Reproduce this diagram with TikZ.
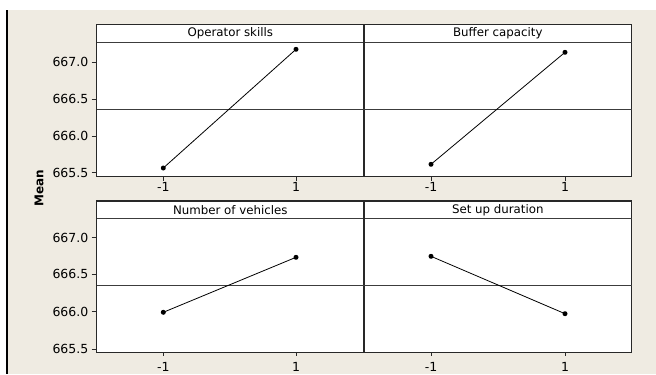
\documentclass[tikz,border=0pt]{standalone}
\usepackage{fontspec}
\setmainfont{DejaVu Sans}
\definecolor{bg}{RGB}{239,235,226}
\definecolor{frame}{RGB}{40,40,40}
\definecolor{meanc}{RGB}{60,60,60}
\begin{document}
\begin{tikzpicture}[x=1bp,y=-1bp,
  panelframe/.style={draw=frame,line width=1.1bp,fill=white},
  sepline/.style={draw=meanc,line width=0.9bp},
  meanline/.style={draw=meanc,line width=0.8bp},
  dataline/.style={draw=black,line width=0.8bp},
  dot/.style={circle,fill=black,inner sep=0pt,minimum size=5bp},
  ticklab/.style={font=\fontsize{12.5bp}{14bp}\selectfont,inner sep=0pt,text=black},
  titlelab/.style={font=\fontsize{11.8bp}{13bp}\selectfont,inner sep=0pt,text=black},
  tickmark/.style={draw=frame,line width=0.8bp}]
\useasboundingbox (0,0) rectangle (656,374);
\fill[white] (0,0) rectangle (656,374);
\fill[bg] (7,10) rectangle (656,374);
\draw[black,line width=2bp] (6.7,10) -- (6.7,374);
% ---------- top row ----------
\path[panelframe] (96.7,24.3) rectangle (631.7,176.7);
\draw[sepline] (96.7,42.7) -- (631.7,42.7);
\draw[frame,line width=1.1bp] (364,24.3) -- (364,176.7);
\draw[meanline] (96.7,109.3) -- (364,109.3);
\draw[meanline] (364,109.3) -- (631.7,109.3);
\node[titlelab] (t1) at (230.3,33.6) {Operator skills};
\node[titlelab] (t2) at (497.8,33.6) {Buffer capacity};
% y ticks top
\foreach \yy/\lab in {62.3/667.0,99/666.5,136/666.0,172.7/665.5}{
  \draw[tickmark] (91.7,\yy) -- (96.7,\yy);
  \node[ticklab,anchor=east] at (88.5,\yy) {\lab};
}
% x ticks top
\foreach \xx/\lab in {163.3/-1,296/1,431/-1,565/1}{
  \draw[tickmark] (\xx,176.7) -- (\xx,180.7);
  \node[ticklab] at (\xx,187) {\lab};
}
\coordinate (a1) at (163.3,168);
\coordinate (a2) at (296,49.3);
\coordinate (b1) at (431,164.3);
\coordinate (b2) at (565,52.3);
\draw[dataline] (a1) -- (a2);
\draw[dataline] (b1) -- (b2);
\foreach \p in {a1,a2,b1,b2}{\node[dot] at (\p) {};}
% ---------- bottom row ----------
\path[panelframe] (96.7,201) rectangle (631.7,352.3);
\draw[sepline] (96.7,218.3) -- (631.7,218.3);
\draw[frame,line width=1.1bp] (364,201) -- (364,352.3);
\draw[meanline] (96.7,285.7) -- (364,285.7);
\draw[meanline] (364,285.7) -- (631.7,285.7);
\node[titlelab] (t3) at (230.3,209.8) {Number of vehicles};
\node[titlelab] (t4) at (497.8,209.8) {Set up duration};
\foreach \yy/\lab in {237.7/667.0,274.3/666.5,311.7/666.0,349/665.5}{
  \draw[tickmark] (91.7,\yy) -- (96.7,\yy);
  \node[ticklab,anchor=east] at (88.5,\yy) {\lab};
}
\foreach \xx/\lab in {163.3/-1,296/1,431/-1,565/1}{
  \draw[tickmark] (\xx,352.3) -- (\xx,356.3);
  \node[ticklab] at (\xx,366.5) {\lab};
}
\coordinate (c1) at (163.3,312.3);
\coordinate (c2) at (296,257.3);
\coordinate (d1) at (431,256.3);
\coordinate (d2) at (565,313.7);
\draw[dataline] (c1) -- (c2);
\draw[dataline] (d1) -- (d2);
\foreach \p in {c1,c2,d1,d2}{\node[dot] at (\p) {};}
% axis title
\node[font=\fontsize{12bp}{14bp}\selectfont\bfseries,rotate=90,inner sep=0pt] (ylab) at (39,188) {Mean};
\end{tikzpicture}
\end{document}
